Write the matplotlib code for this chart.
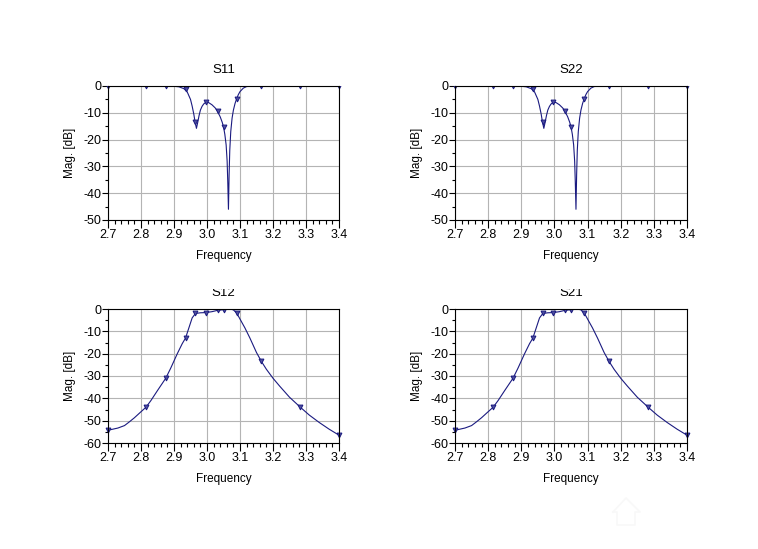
import matplotlib
matplotlib.use("Agg")
import matplotlib.pyplot as plt
from matplotlib.lines import Line2D
from matplotlib.ticker import MultipleLocator
from matplotlib.transforms import Bbox

plt.rcParams['font.family'] = ['Liberation Sans', 'DejaVu Sans']
plt.rcParams['axes.unicode_minus'] = False

# curves
f_s11 = [2.70, 2.80, 2.90, 2.915, 2.93, 2.94, 2.95, 2.955, 2.96, 2.964, 2.968, 2.972, 2.976, 2.98, 2.985, 2.99, 2.997,
         3.005, 3.015, 3.025, 3.032, 3.04, 3.046, 3.05, 3.054, 3.058, 3.061, 3.063, 3.065, 3.067, 3.069, 3.072, 3.076,
         3.08, 3.085, 3.09, 3.095, 3.10, 3.11, 3.12, 3.14, 3.40]
s11 = [0, 0, -0.1, -0.3, -1, -2.2, -5, -7.5, -10.5, -13.5, -15.8, -13.5, -11, -9, -7.6, -6.7, -6,
       -6.2, -7, -8.2, -9.5, -11.5, -13.5, -15.2, -18, -22, -28, -36, -46, -33, -24, -17, -12,
       -9, -6.5, -4.7, -3.2, -2.1, -0.8, -0.2, 0, 0]
f_s22 = f_s11
s22 = s11

f_s12 = [2.70, 2.73, 2.75, 2.765, 2.78, 2.80, 2.815, 2.83, 2.85, 2.875, 2.89, 2.91, 2.925, 2.935, 2.945, 2.955, 2.965,
         2.98, 2.997, 3.015, 3.032, 3.05, 3.07, 3.08, 3.09, 3.10, 3.115, 3.13, 3.15, 3.165, 3.18, 3.20, 3.22, 3.25,
         3.283, 3.31, 3.34, 3.37, 3.40]
s12 = [-54.3, -53.3, -52.2, -50.5, -48.7, -46, -44, -41, -36.5, -31, -26.5, -20, -15.5, -13, -8.5, -4, -2,
       -1.7, -1.6, -1.2, -0.6, -0.3, 0, -0.4, -1.8, -4.5, -8.5, -13, -19.5, -23.5, -27, -31, -34.5, -39.5,
       -44, -47.5, -50.8, -53.8, -56.5]
f_s21 = f_s12
s21 = s12

# marker positions
mk_f = [2.7, 2.815, 2.875, 2.935, 2.965, 2.997, 3.032, 3.05, 3.09, 3.165, 3.283, 3.4]
mk_s11 = [0, 0, 0, -1, -13.5, -6, -9.5, -15.2, -4.7, 0, 0, 0]
mk_s12 = [-54.3, -44, -31, -13, -2, -1.6, -0.6, -0.3, -1.8, -23.5, -44, -56.5]

xticks = [2.7, 2.8, 2.9, 3.0, 3.1, 3.2, 3.3, 3.4]
color = "#1a1a80"
W, H = 758, 549

def panel(rect, title, fx, fy, mk_y, ymin, title_clip=None):
    ax = fig.add_axes(rect)
    ax.plot(fx, fy, color=color, lw=0.8)
    mk = ax.plot(mk_f, mk_y, ls="none", marker="v", ms=3.5, mfc="#5050a0", mec=color, mew=0.7)[0]
    # markers stick out sideways at the ends but get cut at the top edge
    x0, y0, w, h = rect
    mk.set_clip_box(Bbox.from_extents((x0 * W - 6), y0 * H - 6, (x0 + w) * W + 6, (y0 + h) * H))
    ax.set_xlim(2.7, 3.4)
    ax.set_ylim(ymin, 0)
    ax.set_xticks(xticks)
    ax.set_xticklabels(["%.1f" % x for x in xticks])
    ax.yaxis.set_major_locator(MultipleLocator(10))
    ax.xaxis.set_minor_locator(MultipleLocator(0.02))
    ax.yaxis.set_minor_locator(MultipleLocator(5))
    ax.grid(True, which="major", color="#b4b4b4", lw=0.8)
    ax.set_axisbelow(True)
    ax.tick_params(axis="x", which="major", direction="out", length=6, width=0.8, labelsize=9, pad=0.5)
    ax.tick_params(axis="x", which="minor", direction="out", length=3, width=0.8)
    ax.tick_params(axis="y", which="major", direction="out", length=4, width=0.8, labelsize=9, pad=1)
    ax.tick_params(axis="y", which="minor", direction="out", length=2.5, width=0.8)
    t = ax.set_title(title, fontsize=9.5, pad=9)
    if title_clip is not None:
        # top of the title is cut off in the bottom row
        t.set_clip_box(Bbox.from_extents(0, 0, W, H - title_clip))
        t.set_clip_on(True)
    ax.set_xlabel("Frequency", fontsize=8.5, labelpad=6.5)
    ax.set_ylabel("Mag. [dB]", fontsize=8.5, labelpad=5)
    for s in ax.spines.values():
        s.set_linewidth(0.8)
    return ax

fig = plt.figure(figsize=(W / 100, H / 100), dpi=100)

def box(x0, x1, y0, y1):
    return [x0 / W, 1 - y1 / H, (x1 - x0) / W, (y1 - y0) / H]

panel(box(108, 339, 86, 220), "S11", f_s11, s11, mk_s11, -50)
panel(box(455, 687, 86, 220), "S22", f_s22, s22, mk_s11, -50)
panel(box(108, 339, 309, 443), "S12", f_s12, s12, mk_s12, -60, title_clip=289)
panel(box(455, 687, 309, 443), "S21", f_s21, s21, mk_s12, -60, title_clip=289)

# faint house watermark, lower right
house_x = [613, 626, 640, 635, 635, 617, 617, 613]
house_y = [512, 498, 512, 512, 525, 525, 512, 512]
fig.add_artist(Line2D([x / W for x in house_x], [1 - y / H for y in house_y],
                      color="#f8f8f8", lw=1.2, transform=fig.transFigure))

fig.savefig("out.png", dpi=100)
